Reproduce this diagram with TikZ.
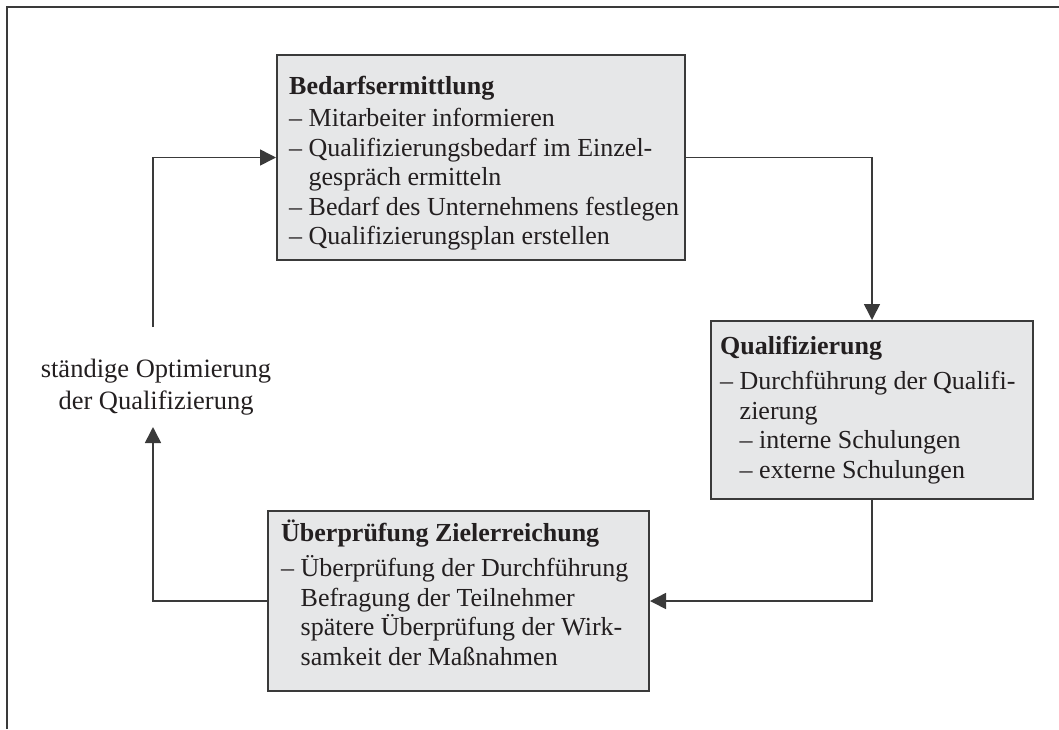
\documentclass[tikz,border=0pt]{standalone}
\usepackage{fontspec}
\setmainfont{Liberation Serif}
\usetikzlibrary{arrows.meta}
\definecolor{boxfill}{HTML}{E6E7E8}
\definecolor{ink}{HTML}{231F20}
\definecolor{frame}{HTML}{3A3A3A}
\newcommand{\ind}{\hphantom{–\ }}
\newcommand{\topr}{\rule{0pt}{24pt}}
\begin{document}
\begin{tikzpicture}[x=1pt,y=-1pt,
  every node/.style={font=\fontsize{26}{29.5}\selectfont, text=ink},
  box/.style={draw=frame, fill=boxfill, line width=2pt, inner sep=0pt, anchor=north west},
  txt/.style={align=left, inner sep=0pt, anchor=north west},
  conn/.style={draw=frame, line width=1.6pt},
  arr/.style={conn, -{Triangle[length=16pt,width=16pt]}}
]
\useasboundingbox (0,0) rectangle (1059,729);
\draw[line width=2pt, frame] (7,729) -- (7,7) -- (1059,7);

\node[box, minimum width=408pt, minimum height=205pt] (b1) at (276,54) {};
\node[box, minimum width=322pt, minimum height=178pt] (b2) at (710,320) {};
\node[box, minimum width=381pt, minimum height=180pt] (b3) at (267,510) {};

\node[txt] (t1) at (289,70) {\topr\textbf{Bedarfsermittlung}\\[3pt]
– Mitarbeiter informieren\\
– Qualifizierungsbedarf im Einzel-\\
\ind gespräch ermitteln\\
– Bedarf des Unternehmens festlegen\\
– Qualifizierungsplan erstellen};

\node[txt] (t2) at (720,330) {\topr\textbf{Qualifizierung}\\[6pt]
– Durchführung der Qualifi-\\
\ind zierung\\
\ind – interne Schulungen\\
\ind – externe Schulungen};

\node[txt] (t3) at (281,517) {\topr\textbf{Überprüfung Zielerreichung}\\[6pt]
– Überprüfung der Durchführung\\
\ind Befragung der Teilnehmer\\
\ind spätere Überprüfung der Wirk-\\
\ind samkeit der Maßnahmen};

\node[align=center, inner sep=0pt, anchor=north, font=\fontsize{26.5}{32}\selectfont] (opt) at (156,353)
  {\topr ständige Optimierung\\ der Qualifizierung};

\coordinate (l1) at (153,327);
\coordinate (l2) at (153,427);

\draw[arr] (b1.east) -| (b2.north);
\draw[arr] (b2.south) |- (b3.east);
\draw[arr] (b3.west) -| (l2);
\draw[arr] (l1) |- (b1.west);
\end{tikzpicture}
\end{document}
